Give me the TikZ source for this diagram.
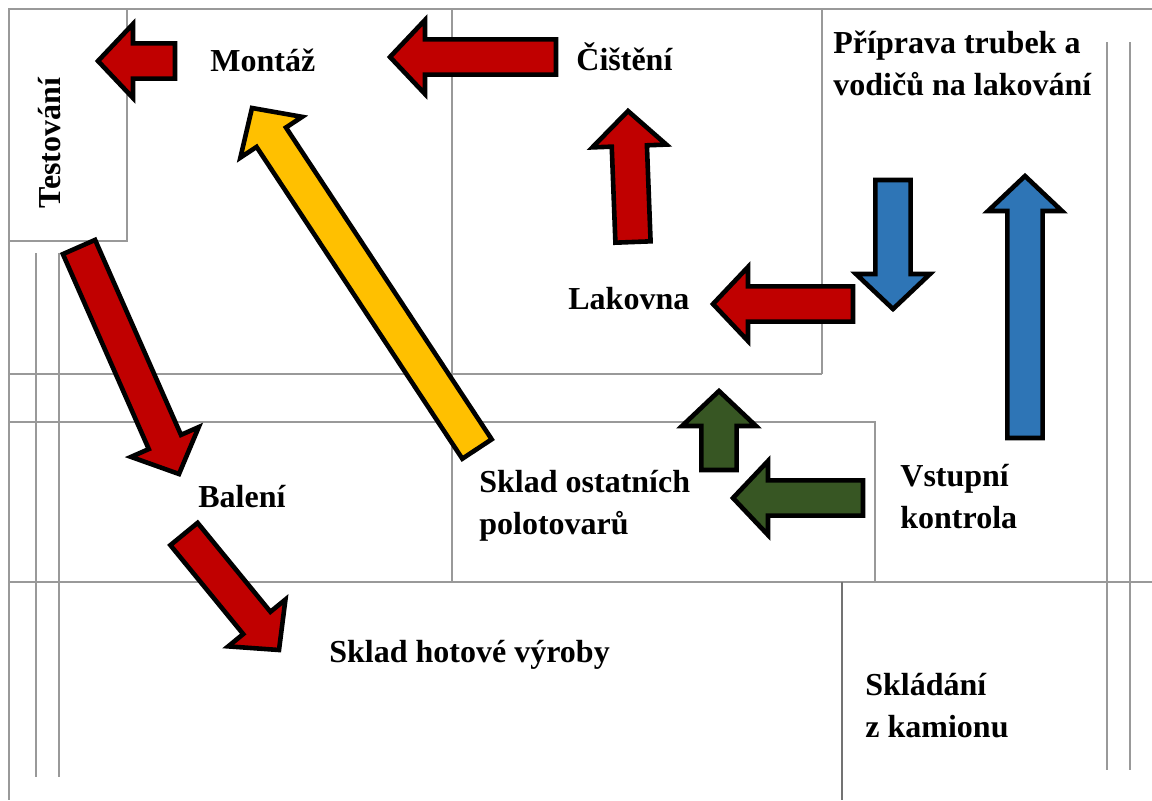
\documentclass[tikz,border=0pt]{standalone}
\usepackage{fontspec}
\setmainfont{Liberation Serif}
\usepackage{tikz}
\usetikzlibrary{calc}

\definecolor{arrred}{HTML}{C00000}
\definecolor{arryellow}{HTML}{FFC000}
\definecolor{arrblue}{HTML}{2E75B6}
\definecolor{arrgreen}{HTML}{375623}

% block arrow: #1 fill, #2 tail, #3 tip
\newcommand{\blockarr}[3]{%
  \path ($(#3)!17.5pt!(#2)$) coordinate (hb);
  \draw[arrowline,fill=#1] ($(#2)!8.8pt!90:(#3)$) -- ($(hb)!8.8pt!90:(#3)$)
    -- ($(hb)!18.5pt!90:(#3)$) -- (#3) -- ($(hb)!18.5pt!-90:(#3)$)
    -- ($(hb)!8.8pt!-90:(#3)$) -- ($(#2)!8.8pt!-90:(#3)$) -- cycle;}

\begin{document}
\begin{tikzpicture}[x=0.5pt,y=-0.5pt,
  wall/.style={draw=black!40,line width=1pt},
  arrowline/.style={draw=black,line width=2.3pt},
  lbl/.style={font=\fontsize{16}{21}\selectfont\bfseries,anchor=base west,align=left,inner sep=0pt}]
 \useasboundingbox (0,0) rectangle (1152,800);

 % walls
 \draw[wall] (9,9) -- (1152,9);
 \draw[wall] (9,9) rectangle (127,241);
 \draw[wall] (9,241) -- (9,800);
 \draw[wall] (36,253) -- (36,777);
 \draw[wall] (59,253) -- (59,777);
 \draw[wall] (452,9) -- (452,582);
 \draw[wall] (822,9) -- (822,374);
 \draw[wall] (9,374) -- (822,374);
 \draw[wall] (9,422) -- (875,422) -- (875,582);
 \draw[wall] (9,582) -- (1152,582);
 \draw[wall,draw=black!55] (842,582) -- (842,800);
 \draw[wall] (1107,42) -- (1107,770);
 \draw[wall] (1130,42) -- (1130,770);

 % labels (two-line ones sit on their last baseline)
 \node[lbl,rotate=90,anchor=base] (testovani) at (61,143) {Testování};
 \node[lbl] (montaz) at (210,71) {Montáž};
 \node[lbl] (cisteni) at (576,70) {Čištění};
 \node[lbl] (priprava) at (833,95) {Příprava trubek a\\vodičů na lakování};
 \node[lbl] (lakovna) at (568,309) {Lakovna};
 \node[lbl] (baleni) at (198,507) {Balení};
 \node[lbl] (skladpol) at (479,534) {Sklad ostatních\\polotovarů};
 \node[lbl] (vstup) at (900,528) {Vstupní\\kontrola};
 \node[lbl] (skladhot) at (329,662) {Sklad hotové výroby};
 \node[lbl] (kamion) at (865,737) {Skládání\\z kamionu};

 % arrow ends
 \coordinate (mt-a) at (175,61);   \coordinate (mt-b) at (98,61);
 \coordinate (cm-a) at (556,57);   \coordinate (cm-b) at (390,57);
 \coordinate (lc-a) at (633,242);  \coordinate (lc-b) at (628,111);
 \coordinate (pl-a) at (853,304);  \coordinate (pl-b) at (713,304);
 \coordinate (bd-a) at (893,180);  \coordinate (bd-b) at (893,309);
 \coordinate (bu-a) at (1025,438); \coordinate (bu-b) at (1025,176);
 \coordinate (gu-a) at (719,470);  \coordinate (gu-b) at (719,391);
 \coordinate (gl-a) at (863,498);  \coordinate (gl-b) at (733,498);
 \coordinate (ym-a) at (477,449);  \coordinate (ym-b) at (252,108);
 \coordinate (tb-a) at (79,247);   \coordinate (tb-b) at (179,474);
 \coordinate (bs-a) at (184,534);  \coordinate (bs-b) at (279,650);

 % arrows
 \blockarr{arrred}{mt-a}{mt-b}
 \blockarr{arrred}{cm-a}{cm-b}
 \blockarr{arrred}{lc-a}{lc-b}
 \blockarr{arrred}{pl-a}{pl-b}
 \blockarr{arrblue}{bd-a}{bd-b}
 \blockarr{arrblue}{bu-a}{bu-b}
 \blockarr{arrgreen}{gu-a}{gu-b}
 \blockarr{arrgreen}{gl-a}{gl-b}
 \blockarr{arryellow}{ym-a}{ym-b}
 \blockarr{arrred}{tb-a}{tb-b}
 \blockarr{arrred}{bs-a}{bs-b}
\end{tikzpicture}
\end{document}
